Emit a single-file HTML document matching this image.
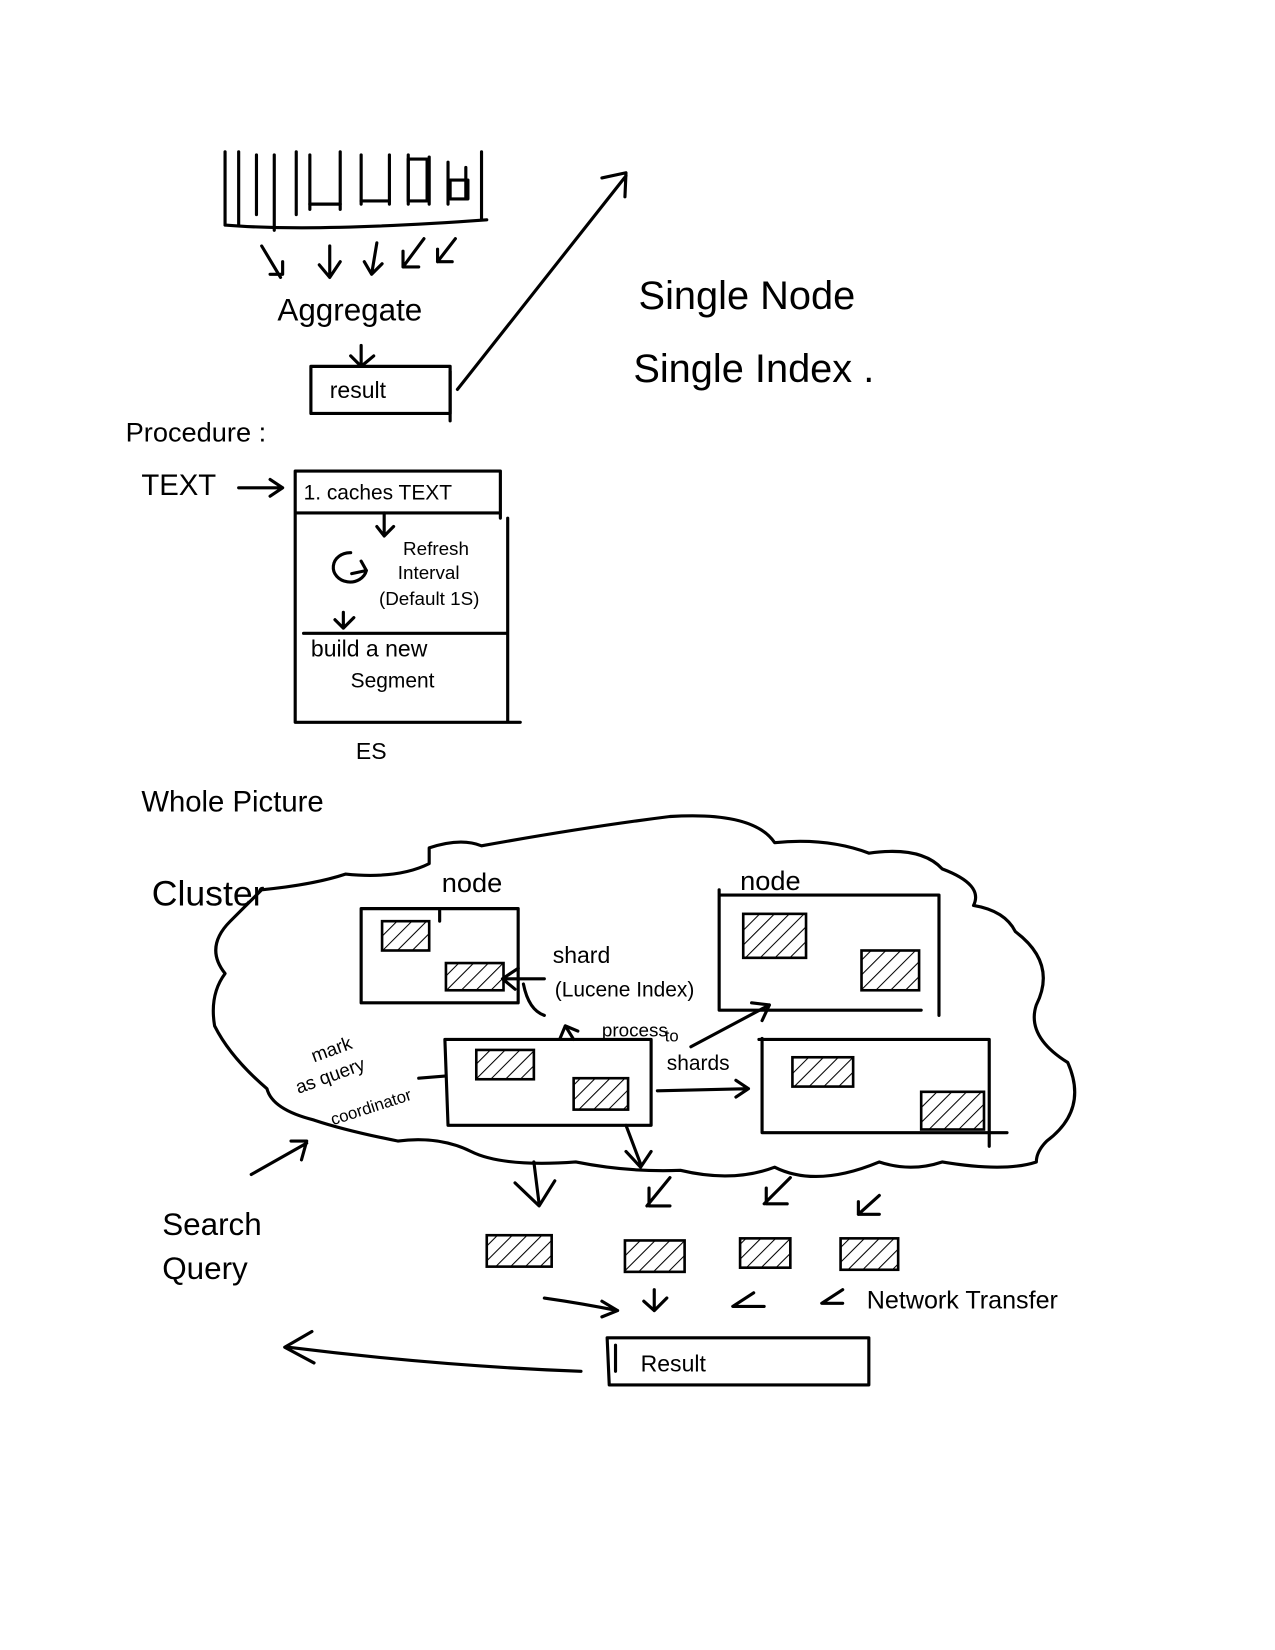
<!DOCTYPE html>
<html><head><meta charset="utf-8"><style>
html,body{margin:0;padding:0;background:#fff;}
svg{display:block}
text{font-family:"Liberation Sans",sans-serif;fill:#000;}
</style></head><body>
<svg width="1275" height="1650" viewBox="0 0 1275 1650" xmlns="http://www.w3.org/2000/svg">
<defs>
<pattern id="h" patternUnits="userSpaceOnUse" width="10" height="10" patternTransform="rotate(45)">
<line x1="0" y1="0" x2="0" y2="10" stroke="#000" stroke-width="2"/></pattern>
</defs>
<g transform="scale(1.0468)">
<g fill="none" stroke="#000" stroke-width="3" stroke-linecap="round" stroke-linejoin="round">
<path d="M215 145 V215 M228 145 V215 M245 148 V205 M262 148 V220 M283 145 V205 M296 148 V200 M325 145 V200 M345 148 V195 M372 148 V195 M390 148 V195 M410 150 V195 M428 155 V195 M445 160 V190 M460 145 V210"/>
<path d="M215 215 Q300 222 465 210"/>
<path d="M296 195 H325 M345 192 H372 M390 152 H408 V192 H390 Z M430 172 H447 V190 H430 Z"/>
<path d="M250 235 L268 265 M258 262 H270 V250"/>
<path d="M315 235 V265 M305 253 L315 265 L325 250"/>
<path d="M360 232 L355 262 M348 250 L355 262 L365 252"/>
<path d="M405 228 L385 255 M385 240 V255 H400"/>
<path d="M435 228 L418 250 M418 238 V250 H432"/>
<path d="M345 330 V350 M335 340 L345 350 L357 340"/>
<rect x="297" y="350" width="133" height="45"/>
<path d="M430 355 V402"/>
<path d="M437 372 L598 168 M575 170 L598 165 L597 188"/>
<path d="M228 466 H270 M258 458 L270 466 L258 474"/>
<path d="M282 450 H478 V490 M282 450 V690 M478 450 V495 M282 490 H478 M290 605 H485 M485 495 V690 M282 690 H497"/>
<path d="M367 490 V512 M360 503 L367 512 L376 503"/>
<path d="M350 545 A16 14 0 1 1 335 528 M336 548 L350 545 L345 536"/>
<path d="M328 585 V600 M320 592 L328 600 L338 590"/>
<path d="M410 810 Q440 800 460 808 Q560 790 640 780 Q720 775 740 805 Q790 800 830 815 Q880 808 900 830 Q940 845 930 865 Q960 870 970 890 Q1010 920 990 960 Q980 990 1020 1015 Q1040 1060 1000 1090 Q990 1100 990 1110 Q960 1120 900 1110 Q870 1120 840 1110 Q780 1135 740 1115 Q700 1130 650 1118 Q600 1120 550 1110 Q480 1115 450 1100 Q420 1085 380 1090 Q330 1080 300 1070 Q260 1060 255 1040 Q220 1010 205 980 Q200 950 215 930 Q195 905 220 880 Q240 860 250 850 Q300 845 330 835 Q380 840 410 825 Z"/>
<path d="M345 868 H495 V958 H345 Z M345 868 V915 M420 870 V880"/>
<path d="M687 855 H897 V970 M687 850 V965 H880"/>
<path d="M425 993 H622 V1075 H428 Z"/>
<path d="M725 993 H945 V1095 M728 992 V1082 H962"/>
</g>
<g stroke="#000" stroke-width="2.5" fill="url(#h)">
<rect x="365" y="880" width="45" height="28"/>
<rect x="426" y="920" width="55" height="26"/>
<rect x="710" y="873" width="60" height="42"/>
<rect x="823" y="908" width="55" height="38"/>
<rect x="455" y="1003" width="55" height="28"/>
<rect x="548" y="1030" width="52" height="30"/>
<rect x="757" y="1010" width="58" height="28"/>
<rect x="880" y="1043" width="60" height="36"/>
<rect x="465" y="1180" width="62" height="30"/>
<rect x="597" y="1185" width="57" height="30"/>
<rect x="707" y="1183" width="48" height="28"/>
<rect x="803" y="1183" width="55" height="30"/>
</g>
<g fill="none" stroke="#000" stroke-width="3" stroke-linecap="round" stroke-linejoin="round">
<path d="M520 935 H482 M495 925 L480 935 L492 945"/>
<path d="M500 940 Q505 965 520 970"/>
<path d="M548 993 L540 980 M535 992 L540 980 L552 985"/>
<path d="M660 1000 L735 960 M718 958 L735 960 L728 975"/>
<path d="M628 1042 L715 1040 M703 1032 L715 1040 L703 1048"/>
<path d="M598 1075 L612 1112 M598 1100 L612 1115 L622 1100"/>
<path d="M400 1030 L425 1028"/>
<path d="M240 1122 L293 1092 M278 1090 L293 1090 L288 1108"/>
<path d="M510 1110 L515 1150 M492 1130 L515 1152 L530 1128"/>
<path d="M640 1125 L618 1152 M620 1135 V1152 H640"/>
<path d="M755 1125 L730 1150 M732 1135 V1150 H752"/>
<path d="M840 1142 L820 1160 M820 1148 V1160 H840"/>
<path d="M520 1240 Q555 1245 590 1252 M575 1243 L590 1252 L575 1258"/>
<path d="M625 1232 V1252 M615 1243 L625 1252 L637 1240"/>
<path d="M720 1235 L700 1248 H730"/>
<path d="M805 1232 L785 1245 H805"/>
<path d="M580 1278 H830 V1323 H582 Z M588 1285 V1310"/>
<path d="M555 1310 Q420 1305 275 1287 M298 1272 L272 1287 L300 1302"/>
</g>
<g font-size="26">
<text x="265" y="306" font-size="30">Aggregate</text>
<text x="315" y="380" font-size="22">result</text>
<text x="610" y="295" font-size="38">Single  Node</text>
<text x="605" y="365" font-size="38">Single  Index .</text>
<text x="120" y="422" font-size="26">Procedure :</text>
<text x="135" y="473" font-size="28">TEXT</text>
<text x="290" y="477" font-size="20">1. caches  TEXT</text>
<text x="385" y="530" font-size="18">Refresh</text>
<text x="380" y="553" font-size="18">Interval</text>
<text x="362" y="578" font-size="18">(Default 1S)</text>
<text x="297" y="627" font-size="22">build   a new</text>
<text x="335" y="657" font-size="20">Segment</text>
<text x="340" y="725" font-size="22">ES</text>
<text x="135" y="775" font-size="28">Whole  Picture</text>
<text x="145" y="865" font-size="34">Cluster</text>
<text x="422" y="852" font-size="26">node</text>
<text x="707" y="850" font-size="26">node</text>
<text x="528" y="920" font-size="22">shard</text>
<text x="530" y="952" font-size="20">(Lucene Index)</text>
<text x="575" y="990" font-size="18">process</text>
<text x="635" y="995" font-size="16">to</text>
<text x="637" y="1022" font-size="20">shards</text>
<text x="300" y="1015" font-size="18" transform="rotate(-20 300 1015)">mark</text>
<text x="285" y="1045" font-size="18" transform="rotate(-20 285 1045)">as query</text>
<text x="318" y="1075" font-size="16" transform="rotate(-18 318 1075)">coordinator</text>
<text x="155" y="1180" font-size="30">Search</text>
<text x="155" y="1222" font-size="30">Query</text>
<text x="828" y="1250" font-size="24">Network Transfer</text>
<text x="612" y="1310" font-size="22">Result</text>
</g>
</g>
</svg>
</body></html>
